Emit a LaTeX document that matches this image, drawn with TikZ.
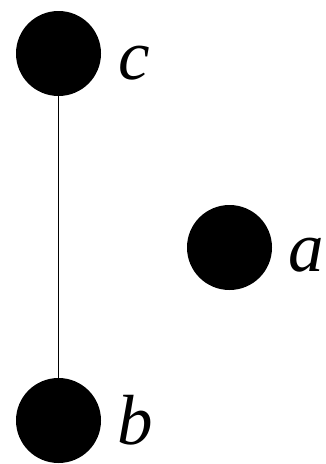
\documentclass[tikz,border=0pt]{standalone}
\usepackage{fontspec}
\setmainfont{Liberation Serif}
\usetikzlibrary{positioning}

\begin{document}
\begin{tikzpicture}[
    x=1pt, y=-1pt,
    vertex/.style = {circle, fill=black, minimum size=85pt, inner sep=0pt},
    lbl/.style = {font=\fontsize{71}{75}\selectfont\itshape, inner sep=0pt, anchor=base west},
    edge/.style = {line width=1.8pt}
]
    \useasboundingbox (0,0) rectangle (325,464);
    \node[vertex] (c) at (58.5,53.5) {};
    \node[vertex] (a) at (229.5,247.5) {};
    \node[vertex] (b) at (58.5,420.5) {};

    \node[lbl] (lc) at ([xshift=17pt, yshift=-26pt]c.east) {c};
    \node[lbl] (la) at ([xshift=16pt, yshift=-24pt]a.east) {a};
    \node[lbl] (lb) at ([xshift=16pt, yshift=-24pt]b.east) {b};

    \draw[edge] (c) -- (b);
\end{tikzpicture}
\end{document}
